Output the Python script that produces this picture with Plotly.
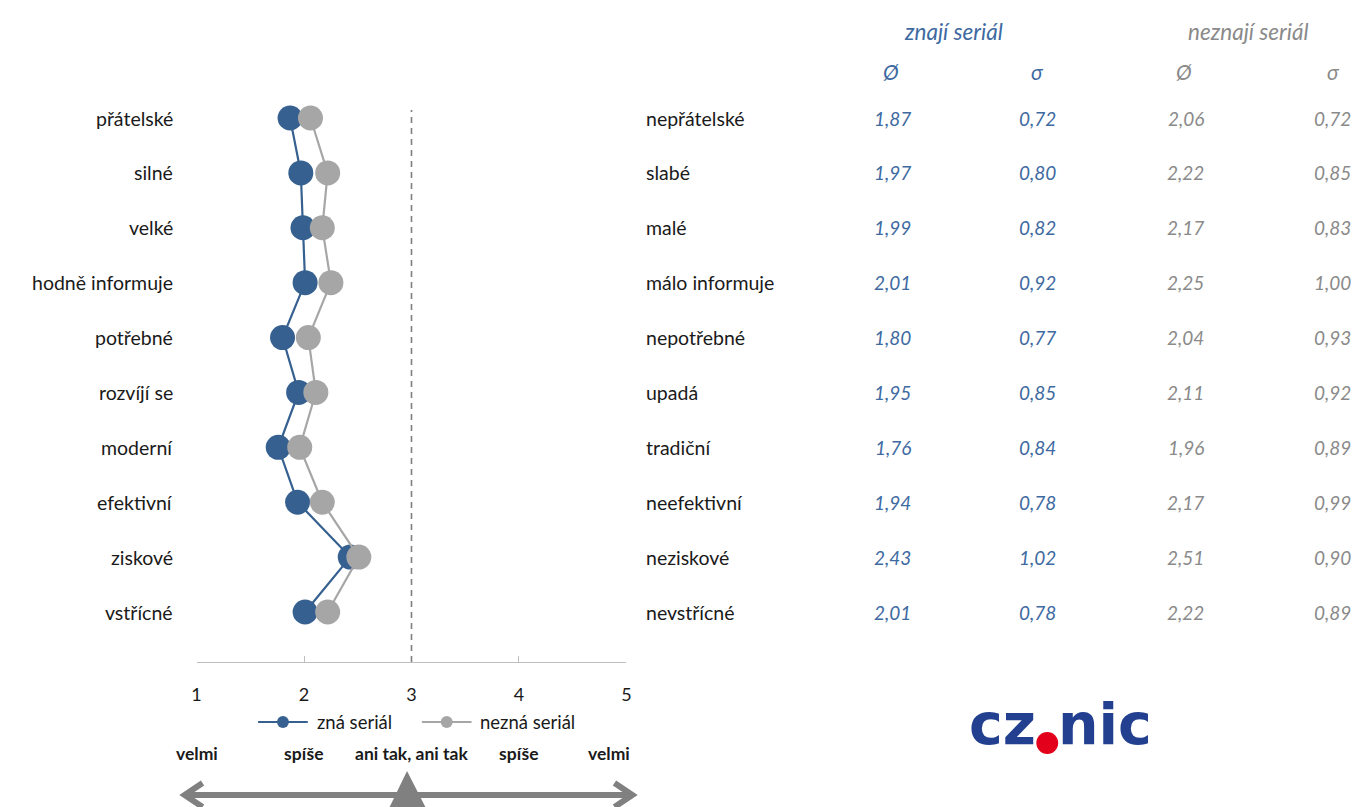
import plotly.graph_objects as go

# Semantic differential: attribute pairs and scores
left_labels = ["přátelské", "silné", "velké", "hodně informuje", "potřebné",
               "rozvíjí se", "moderní", "efektivní", "ziskové", "vstřícné"]
right_labels = ["nepřátelské", "slabé", "malé", "málo informuje", "nepotřebné",
                "upadá", "tradiční", "neefektivní", "neziskové", "nevstřícné"]

zna_mean = [1.87, 1.97, 1.99, 2.01, 1.80, 1.95, 1.76, 1.94, 2.43, 2.01]
zna_sd = [0.72, 0.80, 0.82, 0.92, 0.77, 0.85, 0.84, 0.78, 1.02, 0.78]
nezna_mean = [2.06, 2.22, 2.17, 2.25, 2.04, 2.11, 1.96, 2.17, 2.51, 2.22]
nezna_sd = [0.72, 0.85, 0.83, 1.00, 0.93, 0.92, 0.89, 0.99, 0.90, 0.89]

series_names = ["zná seriál", "nezná seriál"]
scale_ticks = [1, 2, 3, 4, 5]
scale_words = ["velmi", "spíše", "ani tak, ani tak", "spíše", "velmi"]

W, H = 1358, 807
BLUE = "#36608f"
GRAY = "#a6a6a6"
TXT_BLUE = "#3e6aa1"
TXT_GRAY = "#8a8a8a"
INK = "#1a1a1a"
FONT = "Lato"


def px(x):
    return x / W


def py(y):
    return 1 - y / H


rows = list(range(len(left_labels)))

fig = go.Figure()
fig.add_trace(go.Scatter(
    x=zna_mean, y=rows, mode="lines+markers", name=series_names[0],
    line=dict(color=BLUE, width=2.2), marker=dict(color=BLUE, size=25),
))
fig.add_trace(go.Scatter(
    x=nezna_mean, y=rows, mode="lines+markers", name=series_names[1],
    line=dict(color=GRAY, width=2.2), marker=dict(color=GRAY, size=25),
))

annotations = []
# attribute labels on both sides
for i in rows:
    annotations.append(dict(x=px(171), y=i, xref="paper", yref="y", text=left_labels[i],
                            xanchor="right", yanchor="middle", showarrow=False,
                            font=dict(family=FONT, size=19.5, color=INK)))
    annotations.append(dict(x=px(644), y=i, xref="paper", yref="y", text=right_labels[i],
                            xanchor="left", yanchor="middle", showarrow=False,
                            font=dict(family=FONT, size=19.5, color=INK)))


def fmt(v):
    return f"{v:.2f}".replace(".", ",")


# statistics table
cols = [(915, zna_mean, TXT_BLUE), (1061, zna_sd, TXT_BLUE),
        (1210, nezna_mean, TXT_GRAY), (1358, nezna_sd, TXT_GRAY)]
for xr, vals, col in cols:
    for i in rows:
        annotations.append(dict(x=px(xr), y=i, xref="paper", yref="y", text=fmt(vals[i]),
                                xanchor="right", yanchor="middle", showarrow=False,
                                font=dict(family=FONT, size=19, color=col, style="italic")))

for xc, sym, col in [(893, "Ø", TXT_BLUE), (1040, "σ", TXT_BLUE),
                     (1188, "Ø", TXT_GRAY), (1338, "σ", TXT_GRAY)]:
    annotations.append(dict(x=px(xc), y=py(72), xref="paper", yref="paper", text=sym,
                            xanchor="center", yanchor="middle", showarrow=False,
                            font=dict(family=FONT, size=21, color=col, style="italic")))

annotations.append(dict(x=px(956), y=py(31), xref="paper", yref="paper", text="znají seriál",
                        xanchor="center", yanchor="middle", showarrow=False,
                        font=dict(family=FONT, size=22.5, color=TXT_BLUE, style="italic")))
annotations.append(dict(x=px(1252), y=py(31), xref="paper", yref="paper", text="neznají seriál",
                        xanchor="center", yanchor="middle", showarrow=False,
                        font=dict(family=FONT, size=22.5, color=TXT_GRAY, style="italic")))

# verbal scale under the axis
for k, (t, w) in enumerate(zip(scale_ticks, scale_words)):
    annotations.append(dict(x=t, y=py(753), xref="x", yref="paper", text=f"<b>{w}</b>",
                            xanchor="center", yanchor="middle", showarrow=False,
                            xshift=-17 if k == len(scale_ticks) - 1 else 0,
                            font=dict(family=FONT, size=17.5, color=INK)))

# legend entries
for name, col, x0 in [(series_names[0], BLUE, 255), (series_names[1], GRAY, 420)]:
    annotations.append(dict(x=px(x0 + 57), y=py(722), xref="paper", yref="paper", text=name,
                            xanchor="left", yanchor="middle", showarrow=False,
                            font=dict(family=FONT, size=18.5, color=INK)))

# cz.nic logo
annotations.append(dict(x=px(1041), y=py(724), xref="paper", yref="paper", text="<b>cz</b>",
                        xanchor="right", yanchor="middle", showarrow=False,
                        font=dict(family="DejaVu Sans", size=57, color="#22408f")))
annotations.append(dict(x=px(1059), y=py(724), xref="paper", yref="paper", text="<b>nic</b>",
                        xanchor="left", yanchor="middle", showarrow=False,
                        font=dict(family="DejaVu Sans", size=57, color="#22408f")))

shapes = [
    # neutral midpoint
    dict(type="line", xref="x", yref="paper", x0=3, x1=3, y0=py(662), y1=py(110),
         line=dict(color="#7f7f7f", width=1.6, dash="6px,5px")),
    # red dot of the logo
    dict(type="circle", xref="paper", yref="paper", x0=px(1039), x1=px(1061),
         y0=py(754), y1=py(732), fillcolor="#e2001a", line=dict(width=0)),
    # double arrow
    dict(type="line", xref="paper", yref="paper", x0=px(182), x1=px(631), y0=py(795), y1=py(795),
         line=dict(color="#808080", width=6)),
    dict(type="path", xref="paper", yref="paper",
         path=f"M {px(199)},{py(783)} L {px(181)},{py(795)} L {px(199)},{py(807)}",
         line=dict(color="#808080", width=6)),
    dict(type="path", xref="paper", yref="paper",
         path=f"M {px(614)},{py(783)} L {px(632)},{py(795)} L {px(614)},{py(807)}",
         line=dict(color="#808080", width=6)),
    dict(type="path", xref="paper", yref="paper",
         path=f"M {px(405)},{py(771)} L {px(387)},{py(808)} L {px(424)},{py(808)} Z",
         fillcolor="#808080", line=dict(width=0)),
]

# legend samples
for col, x0 in [(BLUE, 255), (GRAY, 420)]:
    shapes.append(dict(type="line", xref="paper", yref="paper", x0=px(x0), x1=px(x0 + 50),
                       y0=py(722), y1=py(722), line=dict(color=col, width=2.2)))
    shapes.append(dict(type="circle", xref="paper", yref="paper", x0=px(x0 + 19), x1=px(x0 + 31),
                       y0=py(728), y1=py(716), fillcolor=col, line=dict(width=0)))

y_top_px, y_bot_px = 100, 662
row_px0, row_px9 = 118, 612
per = (row_px9 - row_px0) / 9
y_range = [9 + (y_bot_px - row_px9) / per, (y_top_px - row_px0) / per]

fig.update_layout(
    width=W, height=H,
    margin=dict(l=0, r=0, t=0, b=0),
    paper_bgcolor="white", plot_bgcolor="white",
    showlegend=False,
    xaxis=dict(domain=[px(193), px(626)], range=[1, 5], tickvals=scale_ticks,
               showgrid=False, zeroline=False, showline=True, linecolor="#bfbfbf", linewidth=1,
               ticks="inside", ticklen=6, tickcolor="#bfbfbf", ticklabelstandoff=16,
               tickfont=dict(family=FONT, size=18, color=INK), anchor="y"),
    yaxis=dict(domain=[py(y_bot_px), py(y_top_px)], range=y_range, showgrid=False,
               zeroline=False, showline=False, showticklabels=False, ticks=""),
    annotations=annotations,
    shapes=shapes,
    font=dict(family=FONT),
)

fig.write_html("out.html")
